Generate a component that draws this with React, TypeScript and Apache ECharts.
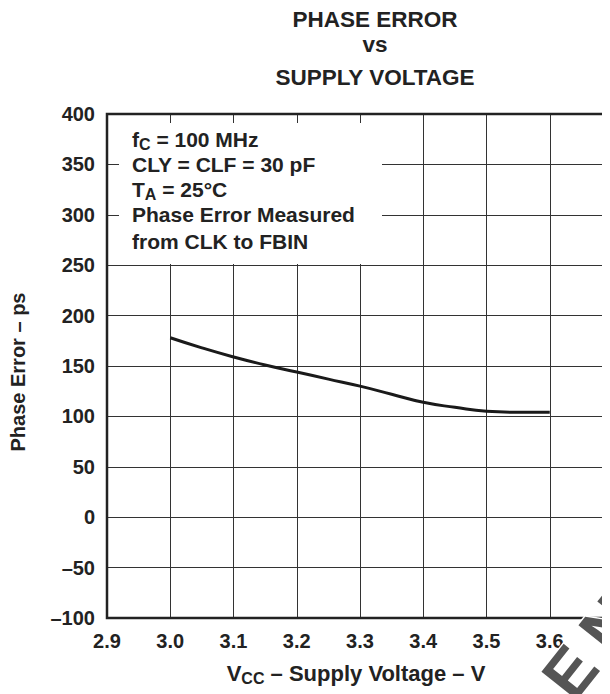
import React, { useEffect, useRef } from "react";
import * as echarts from "echarts";

const titleLines = ["PHASE ERROR", "vs", "SUPPLY VOLTAGE"];
const voltage = [3.0, 3.05, 3.1, 3.15, 3.2, 3.25, 3.3, 3.35, 3.4, 3.45, 3.5, 3.55, 3.6];
const phaseError = [178, 168, 159, 151, 144, 137, 130, 122, 114, 109, 105, 104, 104];
const noteLines = [
  "f{sub|C} = 100 MHz",
  "CLY = CLF = 30 pF",
  "T{sub|A} = 25°C",
  "Phase Error Measured",
  "from CLK to FBIN",
];
const yTitle = "Phase Error – ps";
const xTitle = "V{sub|CC} – Supply Voltage – V";
const watermark = ["E", "N"];

const FONT = "'Liberation Sans', Arial, Helvetica, sans-serif";

export default function App() {
  const ref = useRef<HTMLDivElement>(null);
  useEffect(() => {
    if (!ref.current) return;
    const chart = echarts.init(ref.current, undefined, { renderer: "svg" });
    const titleY = [11, 36, 69];
    const noteY = [131, 156, 181, 206, 233];
    const graphics: any[] = [];
    titleLines.forEach((t, i) =>
      graphics.push({
        type: "text",
        x: 367,
        y: titleY[i],
        z: 100,
        style: {
          text: t,
          fill: "#222",
          font: `bold 22.5px ${FONT}`,
          textAlign: "center",
          textVerticalAlign: "middle",
        },
      })
    );
    graphics.push({
      type: "rect",
      z: 50,
      shape: { x: 111, y: 115, width: 263, height: 141 },
      style: { fill: "#fff" },
    });
    noteLines.forEach((t, i) =>
      graphics.push({
        type: "text",
        x: 124,
        y: noteY[i],
        z: 100,
        style: {
          text: t,
          fill: "#222",
          font: `bold 21px ${FONT}`,
          textAlign: "left",
          textVerticalAlign: "middle",
          rich: {
            sub: { font: `bold 16px ${FONT}`, fill: "#222", padding: [10, 0, 0, 0] },
          },
        },
      })
    );
    graphics.push({
      type: "text",
      x: 10,
      y: 364,
      rotation: Math.PI / 2,
      z: 100,
      style: {
        text: yTitle,
        fill: "#222",
        font: `bold 20px ${FONT}`,
        textAlign: "center",
        textVerticalAlign: "middle",
      },
    });
    graphics.push({
      type: "text",
      x: 348,
      y: 665,
      z: 100,
      style: {
        text: xTitle,
        fill: "#222",
        font: `bold 22px ${FONT}`,
        textAlign: "center",
        textVerticalAlign: "middle",
        rich: {
          sub: { font: `bold 16px ${FONT}`, fill: "#222", padding: [10, 0, 0, 0] },
        },
      },
    });
    const wmPos = [
      [562, 664],
      [600, 616],
    ];
    watermark.forEach((t, i) =>
      graphics.push({
        type: "text",
        x: wmPos[i][0],
        y: wmPos[i][1],
        rotation: 0.9,
        z: 120,
        style: {
          text: t,
          fill: "#555",
          stroke: "#fff",
          lineWidth: 3,
          font: `bold 66px ${FONT}`,
          textAlign: "center",
          textVerticalAlign: "middle",
        },
      })
    );

    chart.setOption({
      animation: false,
      backgroundColor: "#fff",
      grid: {
        left: 99,
        top: 106,
        right: 15,
        bottom: 76,
        show: true,
        borderColor: "#222",
        borderWidth: 2.5,
        backgroundColor: "transparent",
        z: 10,
      },
      xAxis: {
        type: "value",
        min: 2.9,
        max: 3.7,
        interval: 0.1,
        axisLine: { show: false },
        axisTick: { show: false },
        splitLine: { show: true, lineStyle: { color: "#333", width: 1 } },
        axisLabel: {
          margin: 13,
          color: "#222",
          fontFamily: FONT,
          fontWeight: "bold",
          fontSize: 20,
          showMaxLabel: false,
          formatter: (v: number) => v.toFixed(1),
        },
      },
      yAxis: {
        type: "value",
        min: -100,
        max: 400,
        interval: 50,
        axisLine: { show: false },
        axisTick: { show: false },
        splitLine: { show: true, lineStyle: { color: "#333", width: 1 } },
        axisLabel: {
          margin: 12,
          color: "#222",
          fontFamily: FONT,
          fontWeight: "bold",
          fontSize: 20,
          formatter: (v: number) => (v < 0 ? "\u2013" + Math.abs(v) : String(v)),
        },
      },
      series: [
        {
          type: "line",
          data: voltage.map((v, i) => [v, phaseError[i]]),
          smooth: true,
          showSymbol: false,
          z: 20,
          lineStyle: { color: "#1a1a1a", width: 3 },
        },
      ],
      graphic: graphics,
    });
    return () => chart.dispose();
  }, []);
  return (
    <div style={{ width: 602, height: 686, overflow: "hidden", position: "relative" }}>
      <div ref={ref} style={{ width: 620, height: 686 }} />
    </div>
  );
}
